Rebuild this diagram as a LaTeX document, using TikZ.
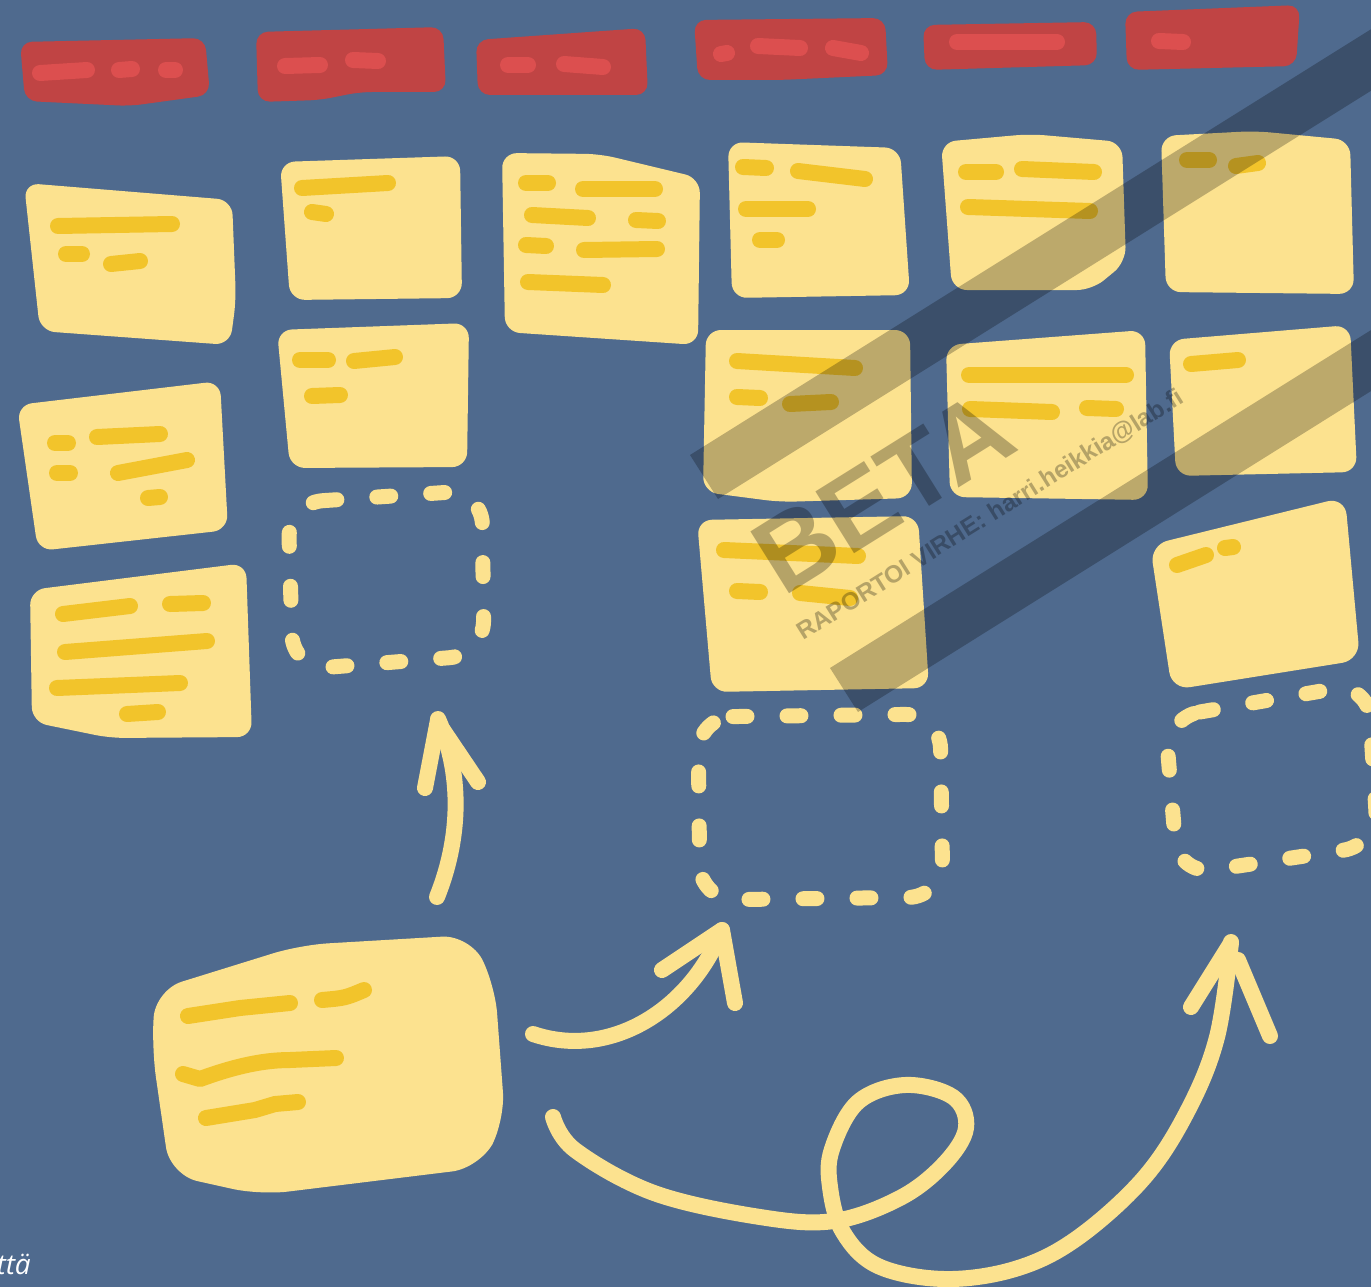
\documentclass[tikz,border=0pt]{standalone}
\usepackage{fontspec}
\newfontfamily\wmfont{Liberation Sans}
\newfontfamily\capfont{Open Sans}
\definecolor{bg}{HTML}{4F6A8E}
\definecolor{hdrR}{HTML}{C04444}
\definecolor{hdrL}{HTML}{DC4F4F}
\definecolor{noteY}{HTML}{FCE28F}
\definecolor{lineY}{HTML}{F2C42B}
\begin{document}
\begin{tikzpicture}[x=1pt,y=-1pt,
  note/.style={fill=noteY, rounded corners=15pt},
  hdr/.style={fill=hdrR, rounded corners=12pt},
  scrib/.style={draw=lineY, line width=16pt, line cap=round, line join=round},
  rdash/.style={draw=hdrL, line width=16pt, line cap=round},
  dbox/.style={draw=noteY, line width=15pt, line cap=round, dash pattern=on 14pt off 40pt, rounded corners=35pt},
  arr/.style={draw=noteY, line width=16pt, line cap=round, line join=round},
  band/.style={fill=black, fill opacity=0.25},
  wm/.style={text=black, text opacity=0.28, inner sep=0pt, rotate=32, anchor=base west}]
\useasboundingbox (0,0) rectangle (1371,1287);
\clip (0,0) rectangle (1371,1287);
\fill[bg] (0,0) rectangle (1371,1287);

% header boxes
\fill[hdr] (20,42) -- (205,38) -- (210,95) -- (130,106) -- (25,101) -- cycle;
\fill[hdr] (256,32) -- (443,27) -- (446,92) -- (360,92) -- (320,100) -- (258,102) -- cycle;
\fill[hdr] (476,40) -- (645,28) -- (648,95) -- (478,95) -- cycle;
\fill[hdr] (694,20) -- (885,18) -- (888,75) -- (780,80) -- (698,80) -- cycle;
\fill[hdr] (923,25) -- (1096,22) -- (1097,65) -- (925,70) -- cycle;
\fill[hdr] (1125,12) -- (1300,5) -- (1296,66) -- (1127,70) -- cycle;
\draw[rdash] (40,73) -- (87,70); \draw[rdash] (119,70) -- (132,69); \draw[rdash] (166,70) -- (175,70);
\draw[rdash] (285,66) -- (320,65); \draw[rdash] (353,60) -- (378,61);
\draw[rdash] (508,65) -- (528,65); \draw[rdash] (564,64) -- (603,67);
\draw[rdash] (721,54) -- (727,53); \draw[rdash] (758,46) -- (800,48); \draw[rdash] (833,48) -- (861,53);
\draw[rdash] (957,42) -- (1057,42);
\draw[rdash] (1159,41) -- (1183,42);

% column 1
\fill[note] (24,183) -- (232,200) -- (236,300) -- (230,345) -- (40,331) -- cycle;
\draw[scrib] (58,226) -- (172,224); \draw[scrib] (66,254) -- (82,254); \draw[scrib] (111,264) -- (140,261);
\fill[note] (17,405) -- (220,381) -- (228,530) -- (38,551) -- cycle;
\draw[scrib] (55,443) -- (68,443); \draw[scrib] (97,437) -- (160,434); \draw[scrib] (57,473) -- (70,473); \draw[scrib] (118,473) -- (187,460); \draw[scrib] (148,498) -- (160,497);
\fill[note] (30,590) -- (246,563) -- (252,737) -- (110,738) -- (32,722) -- cycle;
\draw[scrib] (63,614) -- (130,606); \draw[scrib] (170,604) -- (203,603); \draw[scrib] (65,652) -- (207,641); \draw[scrib] (57,688) -- (180,683); \draw[scrib] (127,714) -- (158,712);

% column 2
\fill[note] (280,162) -- (460,156) -- (462,298) -- (290,300) -- cycle;
\draw[scrib] (302,188) -- (388,183); \draw[scrib] (312,212) -- (326,214);
\fill[note] (277,330) -- (469,323) -- (467,467) -- (290,468) -- cycle;
\draw[scrib] (300,360) -- (328,360); \draw[scrib] (354,361) -- (395,357); \draw[scrib] (312,396) -- (340,395);
\draw[dbox] (288,503) -- (482,490) -- (484,655) -- (293,670) -- cycle;

% column 3
\fill[note] (502,153) -- (600,154) -- (700,178) -- (698,345) -- (505,332) -- cycle;
\draw[scrib] (526,183) -- (548,183); \draw[scrib] (583,189) -- (655,189); \draw[scrib] (532,215) -- (588,218); \draw[scrib] (636,220) -- (658,221); \draw[scrib] (526,245) -- (546,246); \draw[scrib] (584,250) -- (657,249); \draw[scrib] (528,282) -- (603,285);

% column 4
\fill[note] (728,142) -- (900,148) -- (910,295) -- (732,298) -- cycle;
\draw[scrib] (743,167) -- (766,168); \draw[scrib] (798,171) -- (865,179); \draw[scrib] (746,209) -- (808,209); \draw[scrib] (760,240) -- (777,240);
\fill[note] (706,330) -- (910,330) -- (912,498) -- (780,502) -- (703,492) -- cycle;
\draw[scrib] (737,361) -- (855,368); \draw[scrib] (737,397) -- (760,398); \draw[scrib] (790,404) -- (831,402);
\fill[note] (697,520) -- (918,516) -- (929,688) -- (712,692) -- cycle;
\draw[scrib] (724,550) -- (858,556); \draw[scrib] (737,591) -- (760,592); \draw[scrib] (800,593) -- (850,598);
\draw[dbox] (698,717) -- (940,714) -- (943,897) -- (700,900) -- cycle;

% column 5
\fill[note] (941,142) -- (1030,134) -- (1122,142) -- (1126,262) -- (1092,290) -- (952,290) -- cycle;
\draw[scrib] (966,172) -- (996,172); \draw[scrib] (1022,169) -- (1094,172); \draw[scrib] (968,207) -- (1090,211);
\fill[note] (946,345) -- (1145,330) -- (1148,500) -- (950,497) -- cycle;
\draw[scrib] (969,375) -- (1126,375); \draw[scrib] (970,409) -- (1052,412); \draw[scrib] (1087,408) -- (1116,409);

% column 6
\fill[note] (1161,136) -- (1255,131) -- (1350,140) -- (1354,294) -- (1166,292) -- cycle;
\draw[scrib] (1187,160) -- (1209,160); \draw[scrib] (1236,166) -- (1258,163);
\fill[note] (1169,340) -- (1350,325) -- (1357,472) -- (1176,476) -- cycle;
\draw[scrib] (1191,364) -- (1238,360);
\fill[note, rounded corners=18pt] (1150,545) -- (1345,497) -- (1360,660) -- (1172,690) -- cycle;
\draw[scrib] (1177,565) -- (1206,555); \draw[scrib] (1225,548) -- (1233,547);
\draw[dbox] (1165,718) -- (1368,683) -- (1378,845) -- (1178,875) -- cycle;

% big note
\fill[note, rounded corners=28pt] (155,990) -- (300,945) -- (470,935) -- (495,985) -- (505,1120) -- (480,1168) -- (260,1195) -- (170,1175) -- (152,1050) -- cycle;
\draw[scrib] (188,1016) -- (240,1008) -- (290,1003);
\draw[scrib] (322,1000) .. controls (345,998) .. (364,990);
\draw[scrib] (183,1074) -- (200,1079) .. controls (230,1068) and (260,1060) .. (290,1060) -- (336,1058);
\draw[scrib] (206,1118) -- (255,1110) -- (275,1104) -- (298,1102);

% arrows
\draw[arr] (437,897) .. controls (458,845) and (465,780) .. (438,719);
\draw[arr] (425,788) -- (438,720);
\draw[arr] (443,730) -- (478,782);
\draw[arr] (533,1034) .. controls (610,1060) and (690,1010) .. (722,930);
\draw[arr] (662,970) -- (722,930) -- (735,1003);
\draw[arr] plot[smooth, tension=0.6] coordinates {(553,1117) (575,1150) (654,1193) (760,1217) (834,1221) (900,1198) (944,1164) (966,1128) (953,1097) (905,1085) (858,1102) (832,1149) (830,1187) (843,1232) (878,1266) (944,1279) (1015,1269) (1076,1239) (1143,1179) (1187,1112) (1217,1037) (1231,942)};
\draw[arr] (1191,1007) -- (1231,943);
\draw[arr] (1238,960) -- (1270,1036);

% caption fragment
\node[anchor=base east, inner sep=0pt, text=white, font=\capfont\itshape\fontsize{28}{30}\selectfont] (cap) at (31,1274) {ttä};

% watermark
\fill[band] (690,455) -- (1453,-22) -- (1481,22) -- (718,499) -- cycle;
\fill[band] (830,668) -- (1424,297) -- (1451,341) -- (858,712) -- cycle;
\node[wm, font=\wmfont\bfseries\fontsize{106}{110}\selectfont] (beta) at (783,598) {BETA};
\node[wm, font=\wmfont\bfseries\fontsize{24.5}{28}\selectfont] (report) at (803,641) {RAPORTOI VIRHE: harri.heikkia@lab.fi};
\end{tikzpicture}
\end{document}
